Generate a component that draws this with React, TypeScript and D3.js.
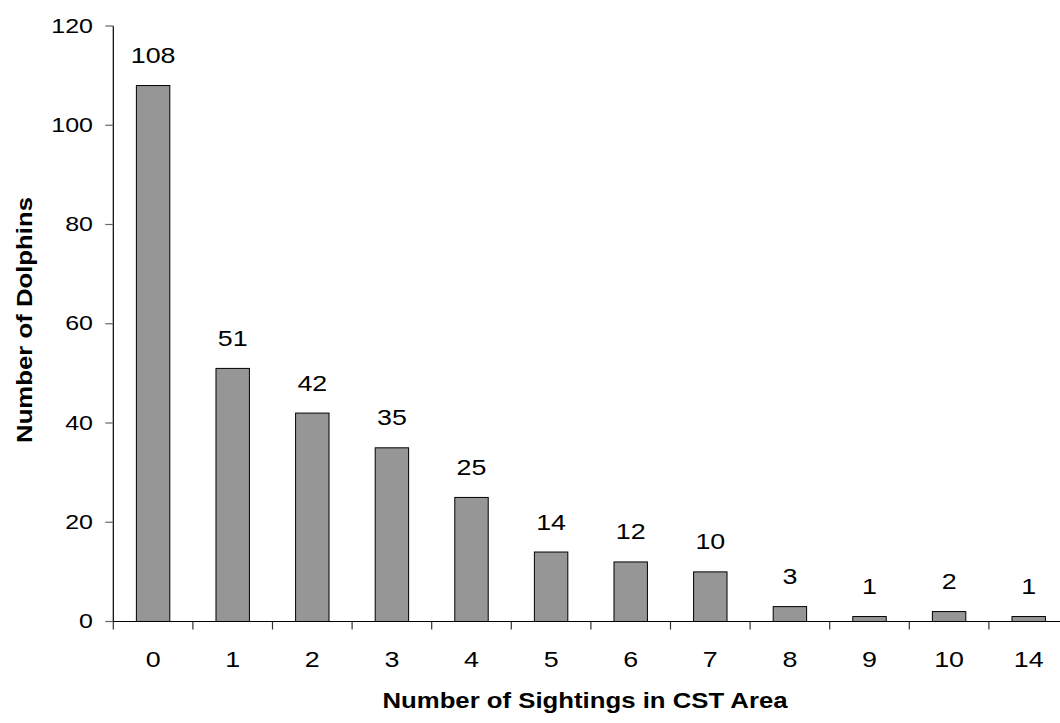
import React from "react";
import * as d3 from "d3";

const categories: string[] = ["0", "1", "2", "3", "4", "5", "6", "7", "8", "9", "10", "14"];
const counts: number[] = [108, 51, 42, 35, 25, 14, 12, 10, 3, 1, 2, 1];
const yTicks: number[] = [0, 20, 40, 60, 80, 100, 120];
const xTitle = "Number of Sightings in CST Area";
const yTitle = "Number of Dolphins";

const W = 1060;
const H = 723;
const left = 113.3;
const step = 79.6;
const y0 = 621.5;
const yTop = 26;
const font = "Arial, 'Liberation Sans', sans-serif";

type TProps = {
  x: number;
  y: number;
  size: number;
  sx?: number;
  anchor?: "start" | "middle" | "end";
  bold?: boolean;
  rotate?: number;
  children: React.ReactNode;
};

function T({ x, y, size, sx = 1.22, anchor = "middle", bold = false, rotate = 0, children }: TProps) {
  return (
    <text
      transform={`translate(${x},${y}) rotate(${rotate}) scale(${sx},1)`}
      textAnchor={anchor}
      fontSize={size}
      fontWeight={bold ? "bold" : "normal"}
      fill="#000"
    >
      {children}
    </text>
  );
}

export default function App() {
  const x = d3
    .scaleBand<string>()
    .domain(categories)
    .range([left, left + step * categories.length])
    .paddingInner(0.58)
    .paddingOuter(0.29);
  const y = d3.scaleLinear().domain([0, 120]).range([y0, yTop]);
  const boundaries = d3.range(categories.length + 1).map((i) => left + i * x.step());

  return (
    <svg
      width={W}
      height={H}
      style={{ position: "absolute", left: 0, top: 0, display: "block", background: "#fff" }}
      fontFamily={font}
    >
      {categories.map((c, i) => (
        <rect
          key={c}
          x={x(c)!}
          y={y(counts[i])}
          width={x.bandwidth()}
          height={y0 - y(counts[i])}
          fill="#969696"
          stroke="#000"
          strokeWidth={1}
        />
      ))}
      {categories.map((c, i) => (
        <T key={"v" + c} x={x(c)! + x.bandwidth() / 2} y={y(counts[i]) - 22.5} size={22}>
          {counts[i]}
        </T>
      ))}
      <line x1={left} x2={left} y1={yTop} y2={y0} stroke="#000" strokeWidth={1.2} />
      {yTicks.map((t) => (
        <g key={"yt" + t}>
          <line x1={left - 8} x2={left} y1={y(t)} y2={y(t)} stroke="#666" strokeWidth={1.2} />
          <T x={93} y={y(t) + 6.5} size={20.5} anchor="end">
            {t}
          </T>
        </g>
      ))}
      <line x1={left} x2={boundaries[boundaries.length - 1]} y1={y0} y2={y0} stroke="#000" strokeWidth={1.2} />
      {boundaries.map((b, i) => (
        <line key={"xt" + i} x1={b} x2={b} y1={y0} y2={y0 + 8} stroke="#333" strokeWidth={1.2} />
      ))}
      {categories.map((c) => (
        <T key={"xl" + c} x={x(c)! + x.bandwidth() / 2} y={667} size={22}>
          {c}
        </T>
      ))}
      <T x={585} y={708} size={22} sx={1.17} bold>
        {xTitle}
      </T>
      <T x={32} y={320} size={22} sx={1.17} bold rotate={-90}>
        {yTitle}
      </T>
    </svg>
  );
}
